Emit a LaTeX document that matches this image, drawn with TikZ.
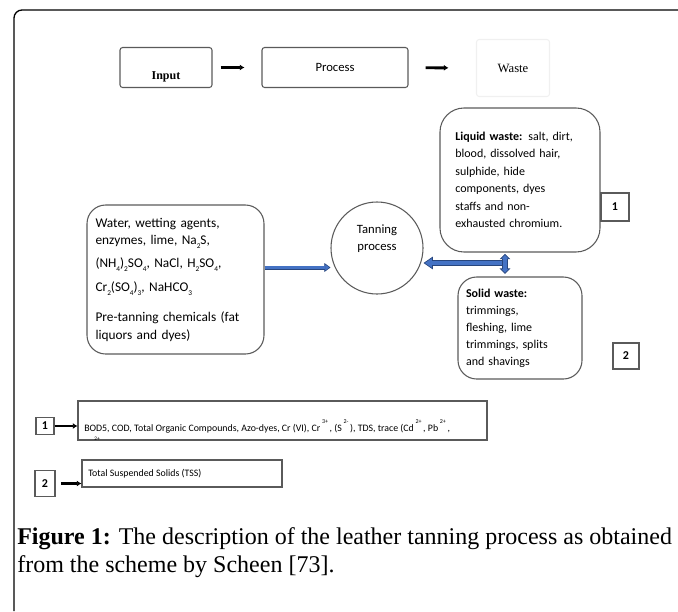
\documentclass[tikz,border=0pt]{standalone}
\usepackage{fontspec}
\setmainfont{Liberation Serif}
\setsansfont{Carlito}
\usetikzlibrary{arrows.meta,positioning,calc}
\definecolor{boxgray}{RGB}{90,90,90}
\definecolor{arrowblue}{RGB}{68,114,196}
\definecolor{arrowedge}{RGB}{40,70,125}
\newcommand{\chemsub}[1]{\raisebox{-3.2pt}{\fontsize{5.5}{6}\selectfont #1}}
\newcommand{\ionsup}[1]{\,\raisebox{6pt}{\fontsize{4.5}{5}\selectfont #1}\,}

\begin{document}
\begin{tikzpicture}[x=0.75pt,y=-0.75pt,
  box/.style={rectangle,draw=boxgray,line width=0.8pt,rounded corners=2pt,inner sep=0pt},
  roundbox/.style={rectangle,draw=boxgray,line width=0.8pt,rounded corners=14pt,align=left,inner sep=0pt},
  numbox/.style={rectangle,draw=boxgray,line width=0.9pt,font=\sffamily\bfseries\fontsize{9}{10}\selectfont,inner sep=0pt},
  blk/.style={-{Latex[length=3.5pt,width=4.5pt]},line width=2.2pt},
  thinflow/.style={-{Triangle[length=4.5pt,width=6.5pt,line width=0.4pt,fill=arrowblue]},draw=arrowedge,line width=3pt,
    postaction={draw=arrowblue,line width=1.6pt,-,shorten >=4pt}},
  fatflow/.style={-{Triangle[length=7pt,width=9.5pt,line width=0.5pt,fill=arrowblue]},draw=arrowedge,line width=5pt,
    postaction={draw=arrowblue,line width=3.4pt,-,shorten >=6pt}},
  fatboth/.style={{Triangle[length=4pt,width=8pt,line width=0.5pt,fill=arrowblue]}-{Triangle[length=4pt,width=8pt,line width=0.5pt,fill=arrowblue]},draw=arrowedge,line width=4pt,
    postaction={draw=arrowblue,line width=2.6pt,-,shorten >=3pt,shorten <=3pt}}]
\useasboundingbox (0,0) rectangle (678,611);
% frame
\draw[line width=1pt,rounded corners=6pt] (14,611) -- (14,10) -- (678,10);

% legend row
\node[box,minimum width=69pt,minimum height=30pt,
  label={[yshift=-7pt,font=\bfseries\fontsize{9}{10}\selectfont]center:Input}] (input) at (166,67.5) {};
\node[box,minimum width=109.5pt,minimum height=30pt,font=\sffamily\fontsize{9.5}{11}\selectfont] (process) at (335,67.5) {Process};
\node[box,draw=black!6,minimum width=54.75pt,minimum height=42.75pt,font=\fontsize{9.5}{11}\selectfont] (waste) at (513,68) {Waste};
\draw[blk,shorten <=6pt,shorten >=12.75pt] (input) -- (process);
\draw[blk,shorten <=12.75pt,shorten >=20.6pt] (process) -- (waste);

% scheme
\node[roundbox,minimum width=132.75pt,minimum height=111.75pt,text width=120pt,
  font=\sffamily\fontsize{10}{13}\selectfont] (chem) at (175.5,279.5)
  {Water, wetting agents,\\
   enzymes, lime, Na\chemsub{2}S,\\[4pt]
   (NH\chemsub{4})\chemsub{2}SO\chemsub{4}, NaCl, H\chemsub{2}SO\chemsub{4},\\[5pt]
   Cr\chemsub{2}(SO\chemsub{4})\chemsub{3}, NaHCO\chemsub{3}\\[10pt]
   Pre-tanning chemicals (fat\\
   liquors and dyes)};
\node[circle,draw=boxgray,line width=0.8pt,minimum size=69pt,inner sep=0pt,align=center,
  font=\sffamily\fontsize{9.5}{13}\selectfont] (tan) at (377,248) {Tanning\\process\\[3pt]};
\node[roundbox,rounded corners=18pt,minimum width=120pt,minimum height=108pt,text width=97pt,
  font=\sffamily\fontsize{9}{13.1}\selectfont] (liquid) at (520,180)
  {\textbf{Liquid waste:} salt, dirt,\\
   blood, dissolved hair,\\
   sulphide, hide\\
   components, dyes\\
   staffs and non-\\
   exhausted chromium.\\[4pt]};
\node[roundbox,minimum width=93pt,minimum height=76.5pt,text width=81pt,
  font=\sffamily\fontsize{9}{12.8}\selectfont] (solid) at (520,328)
  {\textbf{Solid waste:}\\
   trimmings,\\
   fleshing, lime\\
   trimmings, splits\\
   and shavings};
\node[numbox,minimum width=21pt,minimum height=21pt] (one) at (615,207) {1};
\node[numbox,minimum width=19.5pt,minimum height=19.5pt] (two) at (626,356) {2};

\coordinate (junc) at (505,263);
\draw[thinflow] ([yshift=9pt]chem.east) -- ([yshift=9pt]chem.east -| tan.west);
\draw[fatflow] (junc) -- (tan.east |- junc);
\draw[fatboth] ([yshift=-1pt]junc |- liquid.south) -- ([yshift=2pt]junc |- solid.north);

% results
\node[numbox,minimum width=13.5pt,minimum height=12.75pt] (num1) at (45,426) {1};
\node[box,rounded corners=0pt,minimum width=306.75pt,minimum height=29.25pt,
  label={[xshift=-139pt,yshift=-13.5pt,font=\sffamily\fontsize{4}{4}\selectfont]center:2+}] (res1) at (282.5,420.5) {};
\node[anchor=base west,inner sep=0pt,font=\sffamily\fontsize{7.4}{9}\selectfont] (res1txt) at (84,431)
  {BOD5, COD, Total Organic Compounds, Azo-dyes, Cr (VI), Cr\ionsup{3+}, (S\ionsup{2-}), TDS, trace (Cd\ionsup{2+}, Pb\ionsup{2+},};
\draw[blk] (num1.east) -- (num1.east -| res1.west);

\node[numbox,minimum width=15pt,minimum height=20pt] (num2) at (45,483.5) {2};
\node[box,rounded corners=0pt,minimum width=150pt,minimum height=20.25pt] (res2) at (182,473.5) {};
\node[anchor=west,inner sep=0pt,font=\sffamily\fontsize{7.4}{9}\selectfont] (res2txt) at (88,474)
  {Total Suspended Solids (TSS)};
\draw[blk] ([xshift=4pt]num2.east) -- (num2.east -| res2.west);

% caption
\node[anchor=north west,align=left,inner sep=0pt,font=\fontsize{18}{21}\selectfont] (cap) at (17,527)
  {\textbf{Figure 1:} The description of the leather tanning process as obtained\\
   from the scheme by Scheen [73].};
\end{tikzpicture}
\end{document}
